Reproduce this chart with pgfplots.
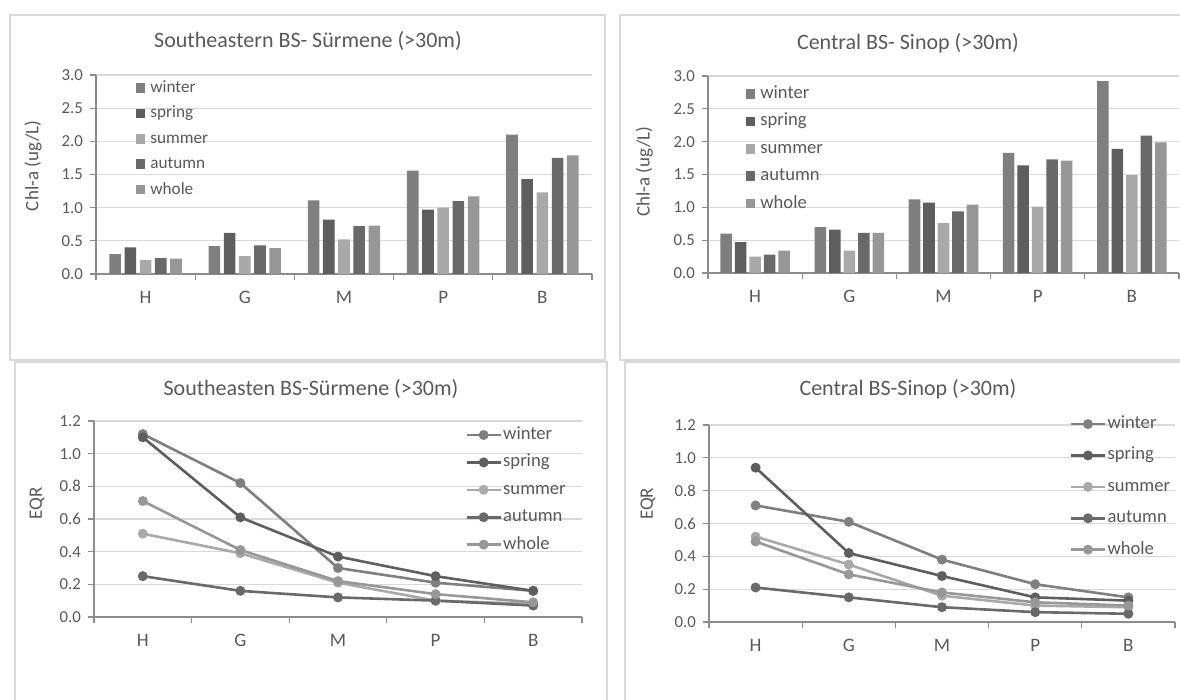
\documentclass[border=0pt]{standalone}
\usepackage{fontspec}
\setmainfont{Carlito}
\usepackage{pgfplots}
\pgfplotsset{compat=1.18}

\definecolor{cwin}{HTML}{7F7F7F}
\definecolor{cspr}{HTML}{5E5E5E}
\definecolor{csum}{HTML}{A9A9A9}
\definecolor{caut}{HTML}{696969}
\definecolor{cwho}{HTML}{979797}
\definecolor{txt}{HTML}{595959}
\definecolor{gridgray}{HTML}{D9D9D9}
\definecolor{axisgray}{HTML}{8C8C8C}
\definecolor{framegray}{HTML}{D9D9D9}

\pgfplotsset{
  panel/.style={
    scale only axis, anchor=south west,
    xmin=-0.5, xmax=4.5,
    axis x line*=bottom, axis y line*=left,
    axis line style={draw=axisgray, line width=0.6pt, -},
    xtick={-0.5,0.5,...,4.5}, xticklabels={},
    extra x ticks={0,1,2,3,4}, extra x tick labels={H,G,M,P,B},
    extra x tick style={major tick length=0pt,
      xticklabel style={yshift=-5pt, font=\fontsize{9.5}{10}\selectfont, text=txt}},
    tick align=outside, major tick length=3pt,
    tick style={draw=axisgray, line width=0.6pt},
    ymajorgrids, grid style={draw=gridgray, line width=0.6pt},
    yticklabel style={font=\fontsize{8.4}{9}\selectfont, text=txt,
      /pgf/number format/fixed, /pgf/number format/fixed zerofill,
      /pgf/number format/precision=1, /pgf/number format/assume math mode=true},
    ylabel style={font=\fontsize{9.5}{11}\selectfont, text=txt, anchor=center},
    legend cell align=left,
    legend style={draw=none, fill=none, inner sep=0pt, anchor=north west,
      text=txt, nodes={inner sep=0.6pt}},
  },
  barpanel/.style={panel, ybar=#1, bar width=5.8pt, ymin=0, ymax=3,
    ytick={0,0.5,1,1.5,2,2.5,3},
    legend image code/.code={\fill[##1] (0pt,-2.4pt) rectangle (4.8pt,2.4pt);
      \path (6.8pt,0pt);}},
  linepanel/.style={panel, ymin=0, ymax=1.2,
    ytick={0,0.2,0.4,0.6,0.8,1.0,1.2}},
  ln/.style={color=#1, line width=1.3pt, mark=*, mark size=1.8pt,
    mark options={fill=#1, draw=#1}},
}

\begin{document}
\begin{tikzpicture}
\path[use as bounding box] (0,0) rectangle (590pt,350pt);
% panel frames
\draw[framegray, line width=0.6pt] (5pt,170pt) rectangle (302.5pt,342.5pt);
\draw[framegray, line width=0.6pt] (310pt,170pt) rectangle (600pt,342.5pt);
\draw[framegray, line width=0.6pt] (7.5pt,-5pt) rectangle (303.5pt,169pt);
\draw[framegray, line width=0.6pt] (312.5pt,-5pt) rectangle (600pt,169pt);

% top left: Chl-a, Surmene
\begin{axis}[barpanel=1.8pt, at={(48pt,213pt)}, width=248pt, height=99.5pt,
  ylabel={Chl-a (ug/L)},
  ylabel style={at={(axis description cs:-0.127,0.543)}},
  legend style={at={(axis description cs:0.079,0.98)},
    font=\fontsize{8.6}{9}\selectfont, row sep=4pt,
    nodes={inner sep=0.6pt, text height=6pt, text depth=1.5pt}}]
\addplot[fill=cwin, draw=none] coordinates {(0,0.30) (1,0.42) (2,1.11) (3,1.56) (4,2.10)};
\addplot[fill=cspr, draw=none] coordinates {(0,0.40) (1,0.62) (2,0.82) (3,0.97) (4,1.43)};
\addplot[fill=csum, draw=none] coordinates {(0,0.21) (1,0.27) (2,0.52) (3,1.00) (4,1.23)};
\addplot[fill=caut, draw=none] coordinates {(0,0.24) (1,0.43) (2,0.72) (3,1.10) (4,1.75)};
\addplot[fill=cwho, draw=none] coordinates {(0,0.23) (1,0.39) (2,0.73) (3,1.17) (4,1.79)};
\legend{winter,spring,summer,autumn,whole}
\end{axis}

% top right: Chl-a, Sinop
\begin{axis}[barpanel=1.45pt, at={(354pt,213.5pt)}, width=235.5pt, height=98.5pt,
  ylabel={Chl-a (ug/L)},
  ylabel style={at={(axis description cs:-0.135,0.513)}},
  legend style={at={(axis description cs:0.079,0.96)},
    font=\fontsize{9.3}{10}\selectfont, row sep=4pt,
    nodes={inner sep=0.6pt, text height=6.5pt, text depth=2pt}}]
\addplot[fill=cwin, draw=none] coordinates {(0,0.60) (1,0.70) (2,1.12) (3,1.83) (4,2.92)};
\addplot[fill=cspr, draw=none] coordinates {(0,0.47) (1,0.66) (2,1.07) (3,1.64) (4,1.89)};
\addplot[fill=csum, draw=none] coordinates {(0,0.25) (1,0.34) (2,0.76) (3,1.01) (4,1.49)};
\addplot[fill=caut, draw=none] coordinates {(0,0.28) (1,0.61) (2,0.94) (3,1.73) (4,2.09)};
\addplot[fill=cwho, draw=none] coordinates {(0,0.34) (1,0.61) (2,1.04) (3,1.71) (4,1.99)};
\legend{winter,spring,summer,autumn,whole}
\end{axis}

% bottom left: EQR, Surmene
\begin{axis}[linepanel, at={(47pt,41.5pt)}, width=244pt, height=98pt,
  ylabel={EQR},
  ylabel style={at={(axis description cs:-0.117,0.58)}},
  legend style={at={(axis description cs:0.76,0.98)},
    font=\fontsize{9.3}{10}\selectfont, row sep=4pt,
    nodes={inner sep=0.6pt, text height=6.5pt, text depth=2pt}}]
\addplot[ln=cwin] coordinates {(0,1.12) (1,0.82) (2,0.30) (3,0.21) (4,0.16)};
\addplot[ln=cspr] coordinates {(0,1.10) (1,0.61) (2,0.37) (3,0.25) (4,0.16)};
\addplot[ln=csum] coordinates {(0,0.51) (1,0.39) (2,0.21) (3,0.10) (4,0.08)};
\addplot[ln=caut] coordinates {(0,0.25) (1,0.16) (2,0.12) (3,0.10) (4,0.07)};
\addplot[ln=cwho] coordinates {(0,0.71) (1,0.41) (2,0.22) (3,0.14) (4,0.09)};
\legend{winter,spring,summer,autumn,whole}
\end{axis}

% bottom right: EQR, Sinop
\begin{axis}[linepanel, at={(354.5pt,39pt)}, width=233pt, height=98.5pt,
  ylabel={EQR},
  ylabel style={at={(axis description cs:-0.131,0.60)}},
  legend style={at={(axis description cs:0.773,1.056)},
    font=\fontsize{9.3}{10}\selectfont, row sep=6pt,
    nodes={inner sep=0.6pt, text height=6.5pt, text depth=2pt}}]
\addplot[ln=cwin] coordinates {(0,0.71) (1,0.61) (2,0.38) (3,0.23) (4,0.15)};
\addplot[ln=cspr] coordinates {(0,0.94) (1,0.42) (2,0.28) (3,0.15) (4,0.13)};
\addplot[ln=csum] coordinates {(0,0.52) (1,0.35) (2,0.16) (3,0.10) (4,0.09)};
\addplot[ln=caut] coordinates {(0,0.21) (1,0.15) (2,0.09) (3,0.06) (4,0.05)};
\addplot[ln=cwho] coordinates {(0,0.49) (1,0.29) (2,0.18) (3,0.12) (4,0.10)};
\legend{winter,spring,summer,autumn,whole}
\end{axis}

% panel titles
\node[font=\fontsize{11}{13}\selectfont, text=txt] at (154pt,329.5pt) {Southeastern BS- Sürmene (>30m)};
\node[font=\fontsize{11}{13}\selectfont, text=txt] at (454pt,328.5pt) {Central BS- Sinop (>30m)};
\node[font=\fontsize{11}{13}\selectfont, text=txt] at (155.5pt,155.5pt) {Southeasten BS-Sürmene (>30m)};
\node[font=\fontsize{11}{13}\selectfont, text=txt] at (454pt,155.5pt) {Central BS-Sinop (>30m)};
\end{tikzpicture}
\end{document}
